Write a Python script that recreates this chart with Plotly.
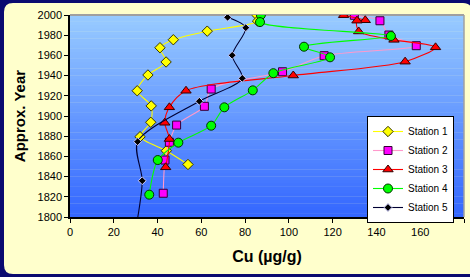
import plotly.graph_objects as go

# ---- data ----
s1_cu = [85.3, 85.7, 62.7, 47.2, 41.1, 43.9, 35.6, 30.7, 37.1, 36.9, 32.0, 44.0, 53.9]
s1_yr = [2000, 1994, 1984, 1975.5, 1967.6, 1953.5, 1940.6, 1925, 1910, 1893.8, 1879.5, 1865.6, 1852]

s2_cu = [129.9, 141.6, 145.7, 158.2, 116.1, 97.1, 64.5, 61.4, 48.7, 45.4, 43.4, 42.6]
s2_yr = [1999.7, 1994.3, 1980.2, 1969.6, 1959.7, 1943.8, 1926.7, 1909.6, 1891, 1874, 1856.4, 1823.5]

s3_cu = [125.0, 134.9, 131.1, 131.9, 148.0, 167.0, 153.1, 102.0, 53.0, 45.4, 43.3, 45.4, 43.7]
s3_yr = [1999.8, 1994.8, 1994.4, 1983.7, 1975.4, 1968.0, 1953.8, 1940.1, 1925, 1908.6, 1893.3, 1877.2, 1849.2]

s4_cu = [87.2, 86.8, 146.6, 106.9, 118.8, 92.9, 83.5, 70.5, 64.5, 49.5, 40.1, 36.2]
s4_yr = [2000, 1993, 1979.2, 1968.6, 1958.1, 1942.4, 1925.4, 1908.6, 1890.4, 1873.6, 1856.4, 1822.1]

s5_cu = [72.0, 80.3, 74.1, 78.7, 59.1, 30.9, 33.0, 30.2]
s5_yr = [1997.7, 1987.4, 1960.1, 1937.3, 1914.6, 1874.6, 1835.9, 1790]

x_ticks = [0, 20, 40, 60, 80, 100, 120, 140, 160, 180]
y_ticks = [1800, 1820, 1840, 1860, 1880, 1900, 1920, 1940, 1960, 1980, 2000]

W, H = 470, 277
ML, MR, MT, MB = 70, 6, 15, 60
PW = W - ML - MR
PH = H - MT - MB

def px_to_paper_x(px):
    return (px - ML) / PW

def px_to_paper_y(py):
    return (H - MB - py) / PH

fig = go.Figure()

def add(name, xs, ys, lcolor, msym, mcolor, msize, mline, lw=1.1):
    fig.add_trace(go.Scatter(
        x=xs, y=ys, name=name, mode="lines+markers",
        line=dict(color=lcolor, width=lw, shape="spline", smoothing=0.8),
        marker=dict(symbol=msym, color=mcolor, size=msize,
                    line=dict(color=mline, width=1)),
    ))

add("Station 1", s1_cu, s1_yr, "#FFFF00", "diamond", "#FFFF00", 8, "#333300")
add("Station 2", s2_cu, s2_yr, "#FF99CC", "square", "#FF00FF", 8, "#330033")
add("Station 3", s3_cu, s3_yr, "#FF0000", "triangle-up", "#FF0000", 9, "#330000")
add("Station 4", s4_cu, s4_yr, "#00FF00", "circle", "#00FF00", 9, "#003300")
add("Station 5", s5_cu, s5_yr, "#000033", "diamond", "#000000", 6, "#CCCCFF")

shapes = []
# cream panel with rounded corners (in pixel -> paper coords)
x0p, x1p = px_to_paper_x(4), px_to_paper_x(472)
y0p, y1p = px_to_paper_y(3), px_to_paper_y(274)
rx = 9 / PW
ry = 9 / PH
path = (f"M {x0p+rx},{y0p} L {x1p-rx},{y0p} Q {x1p},{y0p} {x1p},{y0p-ry} "
        f"L {x1p},{y1p} L {x0p+rx},{y1p} Q {x0p},{y1p} {x0p},{y1p+ry} "
        f"L {x0p},{y0p-ry} Q {x0p},{y0p} {x0p+rx},{y0p} Z")
shapes.append(dict(type="path", xref="paper", yref="paper", path=path,
                   fillcolor="#FFFFCC", line=dict(width=0), layer="below"))

# gradient plot background
N = 60
c_top = (153, 204, 255)
c_bot = (51, 102, 255)
for i in range(N):
    t = (i + 0.5) / N
    r = round(c_bot[0] + (c_top[0] - c_bot[0]) * t)
    g = round(c_bot[1] + (c_top[1] - c_bot[1]) * t)
    b = round(c_bot[2] + (c_top[2] - c_bot[2]) * t)
    shapes.append(dict(type="rect", xref="paper", yref="paper",
                       x0=0, x1=1, y0=i / N, y1=(i + 1) / N + 0.002,
                       fillcolor=f"rgb({r},{g},{b})", line=dict(width=0),
                       layer="below"))
# top / right gray border
shapes.append(dict(type="line", xref="paper", yref="paper", x0=0, x1=1, y0=1, y1=1,
                   line=dict(color="#A0A0A0", width=2), layer="below"))
shapes.append(dict(type="line", xref="paper", yref="paper", x0=1, x1=1, y0=0, y1=1,
                   line=dict(color="#A0A0A0", width=1.5), layer="below"))

font = "Liberation Sans, Arial, sans-serif"

fig.update_layout(
    width=W, height=H,
    margin=dict(l=ML, r=MR, t=MT, b=MB, autoexpand=False),
    paper_bgcolor="#0A0A70",
    plot_bgcolor="rgba(0,0,0,0)",
    shapes=shapes,
    font=dict(family=font, color="black", size=11),
    xaxis=dict(range=[0, 180], tickvals=x_ticks, ticks="outside", ticklen=4,
               tickcolor="black", showline=True, linecolor="black", linewidth=1.5,
               showgrid=False, zeroline=False, tickfont=dict(size=11), automargin=False,
               title=dict(text="<b>Cu (µg/g)</b>", font=dict(size=16), standoff=14)),
    yaxis=dict(range=[1800, 2000], tickvals=y_ticks, ticks="outside", ticklen=4,
               tickcolor="black", showline=True, linecolor="black", linewidth=1.5,
               showgrid=False, zeroline=False, tickfont=dict(size=11), automargin=False,
               title=dict(text="<b>Approx. Year</b>", font=dict(size=15), standoff=8)),
    showlegend=True,
    legend=dict(x=px_to_paper_x(454), y=px_to_paper_y(116), xanchor="right", yanchor="top",
                bgcolor="white", bordercolor="black", borderwidth=1,
                font=dict(size=10), itemwidth=30, tracegroupgap=0),
)

fig.write_html("out.html",
               config={"displayModeBar": False},
               post_script="document.body.style.margin='0';document.body.style.overflow='hidden';")
